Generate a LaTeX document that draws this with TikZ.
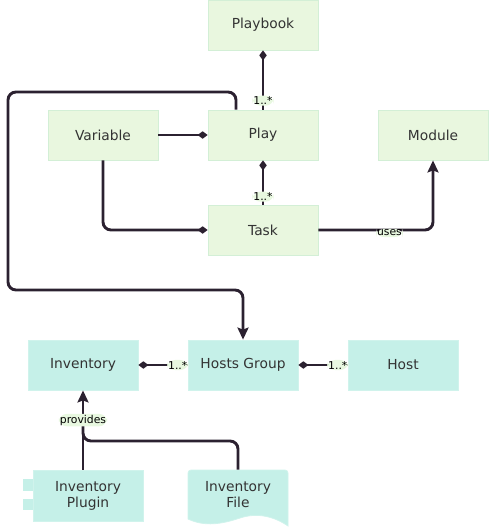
\documentclass[tikz,border=0pt]{standalone}
\usepackage{fontspec}
\setmainfont{DejaVu Sans}
\usetikzlibrary{arrows.meta}
\definecolor{gfill}{HTML}{E9F7DF}
\definecolor{gdraw}{HTML}{D3EFD6}
\definecolor{tfill}{HTML}{C5F0E8}
\definecolor{tdraw}{HTML}{D0F3EC}
\definecolor{ink}{HTML}{2B2130}
\definecolor{txt}{HTML}{333333}
\definecolor{lblbg}{HTML}{E8F8E0}
\begin{document}
\begin{tikzpicture}[x=1pt,y=-1pt,
 box/.style={minimum width=110pt, minimum height=50pt, inner sep=0pt, line width=0.8pt,
   font=\fontsize{13.8}{16}\selectfont, text=txt, align=center},
 gbox/.style={box, fill=gfill, draw=gdraw},
 tbox/.style={box, fill=tfill, draw=tdraw},
 conn/.style={draw=ink, line width=2.9pt, rounded corners=8pt},
 lbl/.style={fill=lblbg, inner sep=1pt, font=\fontsize{10.8}{12}\selectfont, text=black},
 dia/.style={-{Diamond[length=10pt,width=7.5pt]}},
 arr/.style={-{Stealth[length=12pt,width=11pt,inset=2pt]}}]
\useasboundingbox (0,0) rectangle (489,532);

% nodes
\node[gbox] (playbook) at (263,25) {Playbook};
\node[gbox] (variable) at (103,135) {Variable};
\node[gbox] (play) at (263,135) {Play};
\node[gbox] (module) at (433,135) {Module};
\node[gbox] (task) at (263,230) {Task};
\node[tbox] (inventory) at (83,365) {Inventory};
\node[tbox] (hosts) at (243,365) {Hosts Group};
\node[tbox] (host) at (403,365) {Host};

% component tabs + plugin
\fill[tfill] (23,479) rectangle (34,491);
\fill[tfill] (23,499) rectangle (34,510);
\node[tbox, minimum height=51pt] (plugin) at (88,495.5) {Inventory\\Plugin};

% document shape
\fill[tfill, draw=tdraw, line width=0.8pt] (188,473) [rounded corners=3pt] -- (188,470) -- (288,470) [sharp corners] -- (288,526)
  .. controls (275,517) and (258,512) .. (240,518)
  .. controls (222,524) and (205,527) .. (188,519) -- cycle;
\node[box, minimum width=100pt] (file) at (238,495) {Inventory\\File};

% coordinates
\coordinate (a1) at (236,92);
\coordinate (a2) at (8,92);
\coordinate (a3) at (8,290);
\coordinate (a4) at (243,290);
\coordinate (j1) at (238,441);
\coordinate (j2) at (83,441);
\coordinate (j3) at (83,420);

% connectors
\draw[conn,dia] (play.north) -- node[lbl,pos=0.15]{1..*} (playbook.south);
\draw[conn,dia] (variable.east) -- (play.west);
\draw[conn,dia] (variable.south) |- (task.west);
\draw[conn,dia] (task.north) -- node[lbl,pos=0.18]{1..*} (play.south);
\draw[conn,arr] (task.east) -| node[lbl,pos=0.31,yshift=-3pt]{uses} (module.south);
\draw[conn,arr] (a1 |- play.north) -- (a1) -- (a2) -- (a3) -- (a4) -- (hosts.north);
\draw[conn,dia] (hosts.west) -- node[lbl,pos=0.2]{1..*} (inventory.east);
\draw[conn,dia] (host.west) -- node[lbl,pos=0.2]{1..*} (hosts.east);
\draw[conn] (file.north) -- (j1) -- (j2) -- (j3);
\draw[conn,arr] (inventory.south |- plugin.north) -- node[lbl,pos=0.625]{provides} (inventory.south);
\end{tikzpicture}
\end{document}
